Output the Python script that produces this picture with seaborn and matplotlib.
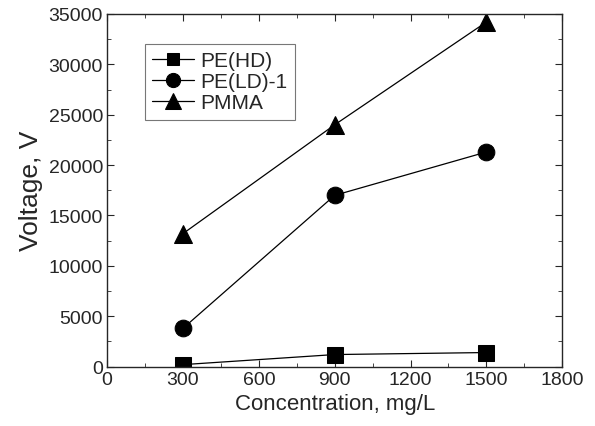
import matplotlib
matplotlib.use("Agg")
import matplotlib.pyplot as plt
import seaborn as sns
from matplotlib.ticker import MultipleLocator

concentration = [300, 900, 1500]
pe_hd = [200, 1200, 1400]
pe_ld1 = [3800, 17000, 21300]
pmma = [13200, 24000, 34200]

sns.set_style("ticks")
plt.rcParams['font.family'] = ['Liberation Sans', 'DejaVu Sans']

fig = plt.figure(figsize=(5.95, 4.27), dpi=100)
ax = fig.add_axes([0.18, 0.139, 0.765, 0.826])

series = [("PE(HD)", pe_hd, "s", 11), ("PE(LD)-1", pe_ld1, "o", 12), ("PMMA", pmma, "^", 13)]
for name, vals, mk, ms in series:
    sns.lineplot(x=concentration, y=vals, ax=ax, color="black", lw=0.9,
                 marker=mk, markersize=ms, markeredgecolor="black", label=name)

ax.set_xlim(0, 1800)
ax.set_ylim(0, 35000)
ax.xaxis.set_major_locator(MultipleLocator(300))
ax.xaxis.set_minor_locator(MultipleLocator(150))
ax.yaxis.set_major_locator(MultipleLocator(5000))
ax.yaxis.set_minor_locator(MultipleLocator(2500))
ax.tick_params(which="both", direction="in", top=True, right=True, labelsize=14, pad=3)
ax.tick_params(which="major", length=5)
ax.tick_params(which="minor", length=3)
for s in ax.spines.values():
    s.set_linewidth(1.0)

ax.set_xlabel("Concentration, mg/L", fontsize=16, labelpad=4)
ax.set_ylabel("Voltage, V", fontsize=19, labelpad=4)

leg = ax.legend(loc="upper left", bbox_to_anchor=(0.083, 0.915), fontsize=15, frameon=True,
                fancybox=False, edgecolor="#555555", handlelength=2.0, borderpad=0.35,
                labelspacing=0.1, handletextpad=0.3, borderaxespad=0, markerscale=0.85)
leg.get_frame().set_linewidth(0.8)

fig.savefig("out.png", dpi=100)
